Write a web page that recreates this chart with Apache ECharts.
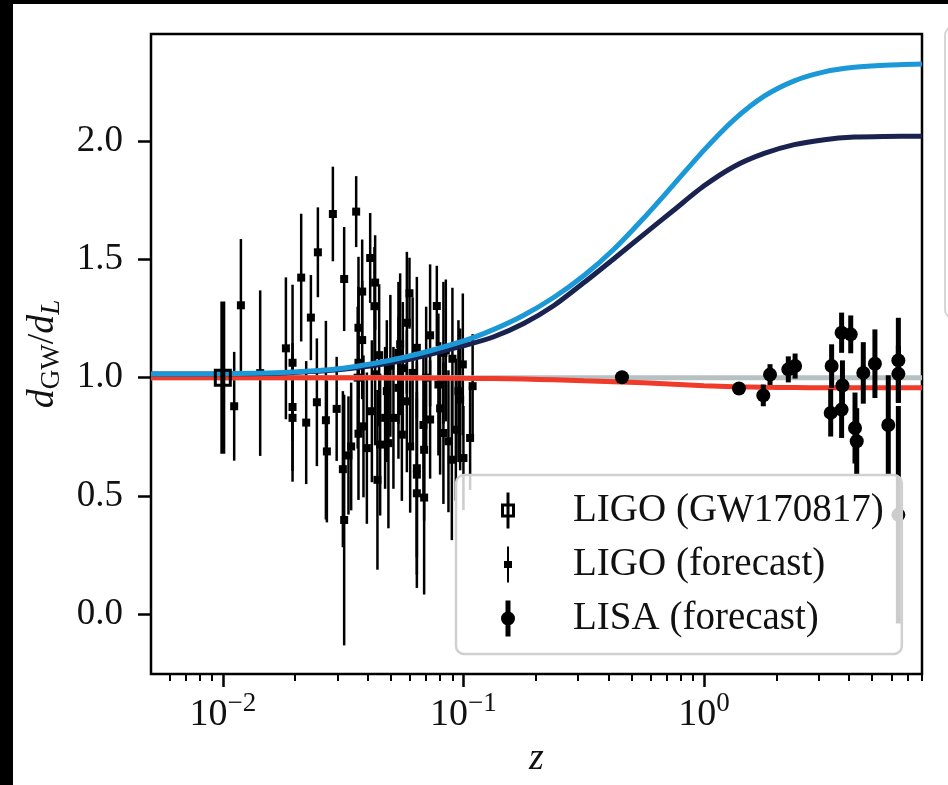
<!DOCTYPE html>
<html>
<head>
<meta charset="utf-8">
<script src="https://cdn.jsdelivr.net/npm/echarts@6/dist/echarts.min.js"></script>
<style>
html,body{margin:0;padding:0;background:#fff;}
#chart{width:948px;height:785px;}
</style>
</head>
<body>
<div id="chart"></div>
<script>
// ---- data ----
const zCurve   = [0.00503,0.01,0.0178,0.0316,0.0562,0.1,0.133,0.178,0.237,0.316,0.422,0.562,0.75,1.0,1.334,1.778,2.371,3.162,4.217,5.623,8.05];
const blueCurve= [1.015,1.017,1.022,1.040,1.085,1.155,1.203,1.264,1.339,1.431,1.543,1.675,1.818,1.962,2.091,2.190,2.255,2.293,2.312,2.321,2.326];
const navyCurve= [1.015,1.016,1.020,1.035,1.072,1.135,1.172,1.229,1.304,1.401,1.503,1.606,1.709,1.811,1.893,1.948,1.985,2.006,2.017,2.020,2.021];
const redCurve = [1.000,1.000,1.000,0.9995,0.999,0.997,0.996,0.994,0.991,0.987,0.983,0.978,0.972,0.966,0.962,0.959,0.958,0.957,0.957,0.957,0.957];
const greyZ    = [0.00503, 8.05];
const greyVal  = [1.0, 1.0];

const gwZ   = [0.01];
const gwVal = [1.0];
const gwErr = [0.322];

const ligoZ = [0.01115,0.01189,0.01430,0.01829,0.01949,0.01949,0.01949,0.02117,0.02221,0.02323,0.02460,0.02484,0.02682,0.02707,0.02867,0.02973,0.03155,0.03194,0.03194,0.03328,0.03415,0.03583,0.03663,0.03663,0.03663,0.03635,0.03795,0.03795,0.03842,0.03969,0.04097,0.04164,0.04268,0.04296,0.04296,0.04392,0.04465,0.04507,0.04726,0.04804,0.04878,0.04970,0.05118,0.05370,0.05370,0.05458,0.05548,0.05600,0.05820,0.05820,0.05967,0.06007,0.06150,0.06404,0.06404,0.06404,0.06404,0.06821,0.06866,0.06866,0.07000,0.07270,0.07270,0.07752,0.07871,0.08000,0.08257,0.08257,0.08449,0.08665,0.08951,0.09000,0.09300,0.09533,0.09690,0.09942,0.1000,0.1066,0.1092];
const ligoVal = [0.879,1.306,1.019,1.124,1.063,0.876,0.830,1.423,0.810,1.254,0.896,1.530,0.820,0.688,1.692,0.868,0.613,0.398,1.417,0.671,0.709,1.702,1.211,1.063,0.763,1.000,1.364,1.159,0.794,0.702,1.506,0.858,1.302,1.402,1.014,0.568,1.095,0.717,0.830,0.943,0.723,1.050,0.830,1.105,0.957,1.141,0.759,1.040,1.232,0.900,1.357,0.709,1.020,1.126,0.617,0.590,0.511,0.800,0.695,0.493,1.000,1.179,0.823,1.303,0.971,0.870,1.105,0.766,1.115,0.731,0.653,1.080,0.780,0.943,0.908,1.056,0.660,0.745,0.964];
const ligoErr = [0.23,0.28,0.35,0.30,0.33,0.27,0.27,0.27,0.26,0.18,0.27,0.19,0.42,0.30,0.20,0.22,0.33,0.53,0.22,0.25,0.27,0.15,0.30,0.32,0.28,0.30,0.22,0.25,0.30,0.32,0.19,0.30,0.25,0.20,0.30,0.38,0.30,0.30,0.30,0.30,0.36,0.30,0.30,0.30,0.30,0.30,0.28,0.28,0.30,0.30,0.15,0.28,0.32,0.30,0.45,0.35,0.40,0.30,0.30,0.41,0.30,0.30,0.25,0.17,0.30,0.28,0.30,0.30,0.30,0.30,0.34,0.30,0.30,0.30,0.30,0.30,0.22,0.22,0.22];

const lisaZ   = [0.456,1.397,1.763,1.88,2.24,2.39,3.39,3.36,3.73,4.07,3.76,3.73,4.24,4.31,4.59,5.13,5.83,6.42,6.42,6.42];
const lisaVal = [1.002,0.954,0.925,1.013,1.035,1.049,1.049,0.851,1.190,1.183,0.967,0.865,0.787,0.731,1.020,1.059,0.800,1.073,1.016,0.420];
const lisaErr = [0.010,0.015,0.046,0.044,0.055,0.053,0.092,0.100,0.085,0.080,0.106,0.120,0.150,0.140,0.130,0.145,0.210,0.180,0.120,0.460];

const xMin = 0.00503, xMax = 8.05, yMin = -0.253, yMax = 2.453;
const xMajorTicks = [0.01, 0.1, 1];
const xMinorTicks = [0.006,0.007,0.008,0.009,0.02,0.03,0.04,0.05,0.06,0.07,0.08,0.09,0.2,0.3,0.4,0.5,0.6,0.7,0.8,0.9,2,3,4,5,6,7,8];
const yTicks = [0, 0.5, 1.0, 1.5, 2.0];

// ---- helpers ----
const FONT = 'Liberation Serif';
function zip2(a, b) { return a.map((v, i) => [v, b[i]]); }
function zip3(a, b, c) { return a.map((v, i) => [v, b[i], c[i]]); }

function errRender(opt) {
  return function (params, api) {
    const x = api.value(0), y = api.value(1), e = api.value(2);
    const p = api.coord([x, y]);
    const t = api.coord([x, y + e]);
    const b = api.coord([x, y - e]);
    const ch = [{
      type: 'line',
      shape: { x1: p[0], y1: t[1], x2: p[0], y2: b[1] },
      style: { stroke: '#000', lineWidth: opt.barW }
    }];
    const s = opt.size;
    if (opt.marker === 'square') {
      ch.push({ type: 'rect', shape: { x: p[0] - s / 2, y: p[1] - s / 2, width: s, height: s },
        style: { fill: '#000' } });
    } else if (opt.marker === 'open') {
      ch.push({ type: 'rect', shape: { x: p[0] - s / 2, y: p[1] - s / 2, width: s, height: s },
        style: { fill: 'none', stroke: '#000', lineWidth: 3 } });
    } else {
      ch.push({ type: 'circle', shape: { cx: p[0], cy: p[1], r: s / 2 }, style: { fill: '#000' } });
    }
    return { type: 'group', children: ch };
  };
}

const iconGW   = 'path://M0 11L14 11L14 25L0 25Z M3 14L3 22L11 22L11 14Z M5.5 0L8.5 0L8.5 36L5.5 36Z';
const iconLIGO = 'path://M6 0L8 0L8 36L6 36Z M3 14.5L11 14.5L11 21.5L3 21.5Z';
const iconLISA = 'path://M4.5 0L9.5 0L9.5 36L4.5 36Z M0 18A7 7 0 1 1 14 18A7 7 0 1 1 0 18Z';

const supRich = {
  b: { fontFamily: FONT, fontSize: 38, color: '#111' },
  s: { fontFamily: FONT, fontSize: 27, color: '#111', padding: [0, 0, 24, 0] }
};

const chart = echarts.init(document.getElementById('chart'), null, { renderer: 'canvas' });
chart.setOption({
  animation: false,
  backgroundColor: '#fff',
  grid: { left: 151, top: 34, width: 771, height: 640, show: true, borderColor: '#000', borderWidth: 2.5, backgroundColor: 'transparent', containLabel: false },
  xAxis: [{
    type: 'log', logBase: 10, min: xMin, max: xMax, position: 'bottom',
    axisLine: { show: false, onZero: false },
    splitLine: { show: false },
    minorTick: { show: false },
    axisTick: { show: true, length: 13, lineStyle: { color: '#000', width: 2.5 }, customValues: xMajorTicks },
    axisLabel: {
      show: true, margin: 16, customValues: xMajorTicks,
      formatter: function (v) {
        const e = Math.round(Math.log10(v));
        return '{b|10}{s|' + (e < 0 ? '\u2212' + (-e) : String(e)) + '}';
      },
      rich: supRich
    },
    name: 'z', nameLocation: 'middle', nameGap: 66,
    nameTextStyle: { fontFamily: FONT, fontStyle: 'italic', fontSize: 38, color: '#111' }
  }, {
    type: 'log', logBase: 10, min: xMin, max: xMax, position: 'bottom',
    axisLine: { show: false, onZero: false }, splitLine: { show: false },
    axisTick: { show: true, length: 7, lineStyle: { color: '#000', width: 2 }, customValues: xMinorTicks },
    axisLabel: { show: false }
  }],
  yAxis: {
    type: 'value', min: yMin, max: yMax,
    axisLine: { show: false, onZero: false }, splitLine: { show: false },
    axisTick: { show: true, length: 13, lineStyle: { color: '#000', width: 2.5 }, customValues: yTicks },
    axisLabel: { show: true, margin: 28, customValues: yTicks, fontFamily: FONT, fontSize: 37, color: '#111',
      formatter: v => v.toFixed(1) },
    name: '{i|d}{s|GW}{n|/}{i|d}{si|L}', nameLocation: 'middle', nameRotate: 90, nameGap: 80,
    nameTextStyle: {
      rich: {
        i: { fontFamily: FONT, fontStyle: 'italic', fontSize: 38, color: '#111' },
        n: { fontFamily: FONT, fontSize: 38, color: '#111' },
        s: { fontFamily: FONT, fontSize: 27, color: '#111', padding: [18, 0, 0, 0] },
        si: { fontFamily: FONT, fontStyle: 'italic', fontSize: 27, color: '#111', padding: [18, 0, 0, 0] }
      }
    }
  },
  legend: {
    orient: 'vertical', left: 456, top: 475, selectedMode: false, z: 20,
    padding: [15, 18, 15, 45], itemGap: 13, itemWidth: 14, itemHeight: 36,
    backgroundColor: 'rgba(255,255,255,0.8)', borderColor: '#d0d0d0', borderWidth: 2.5, borderRadius: 8,
    textStyle: { fontFamily: FONT, fontSize: 39, color: '#111', lineHeight: 41, padding: [0, 0, 0, 53] },
    data: [
      { name: 'LIGO (GW170817)', icon: iconGW },
      { name: 'LIGO (forecast)', icon: iconLIGO },
      { name: 'LISA (forecast)', icon: iconLISA }
    ]
  },
  graphic: [
    { type: 'rect', left: 0, top: 0, shape: { width: 948, height: 4 }, style: { fill: '#000' }, z: 100 },
    { type: 'rect', left: 0, top: 0, shape: { width: 13, height: 785 }, style: { fill: '#000' }, z: 100 },
    { type: 'rect', left: 944, top: 26, shape: { width: 30, height: 291, r: 8 }, style: { fill: '#fcfcfc', stroke: '#d6d6d6', lineWidth: 2 }, z: 100 }
  ],
  series: [
    { name: 'LIGO (forecast)', type: 'custom', z: 1, itemStyle: { color: '#000' },
      renderItem: errRender({ barW: 2.5, marker: 'square', size: 8 }),
      encode: { x: 0, y: 1 }, data: zip3(ligoZ, ligoVal, ligoErr) },
    { name: 'grey', type: 'line', z: 2, showSymbol: false, silent: true,
      lineStyle: { color: '#b7c0c2', width: 5 }, data: zip2(greyZ, greyVal) },
    { name: 'red', type: 'line', z: 2, showSymbol: false, silent: true, smooth: 0.25,
      lineStyle: { color: '#f03a2a', width: 5 }, data: zip2(zCurve, redCurve) },
    { name: 'navy', type: 'line', z: 2, showSymbol: false, silent: true, smooth: 0.25,
      lineStyle: { color: '#1a2250', width: 5 }, data: zip2(zCurve, navyCurve) },
    { name: 'blue', type: 'line', z: 2, showSymbol: false, silent: true, smooth: 0.25,
      lineStyle: { color: '#1b98d8', width: 5 }, data: zip2(zCurve, blueCurve) },
    { name: 'LIGO (GW170817)', type: 'custom', z: 3, itemStyle: { color: '#000' },
      renderItem: errRender({ barW: 5, marker: 'open', size: 15 }),
      encode: { x: 0, y: 1 }, data: zip3(gwZ, gwVal, gwErr) },
    { name: 'LISA (forecast)', type: 'custom', z: 3, itemStyle: { color: '#000' },
      renderItem: errRender({ barW: 5, marker: 'circle', size: 14 }),
      encode: { x: 0, y: 1 }, data: zip3(lisaZ, lisaVal, lisaErr) }
  ]
});
</script>
</body>
</html>
